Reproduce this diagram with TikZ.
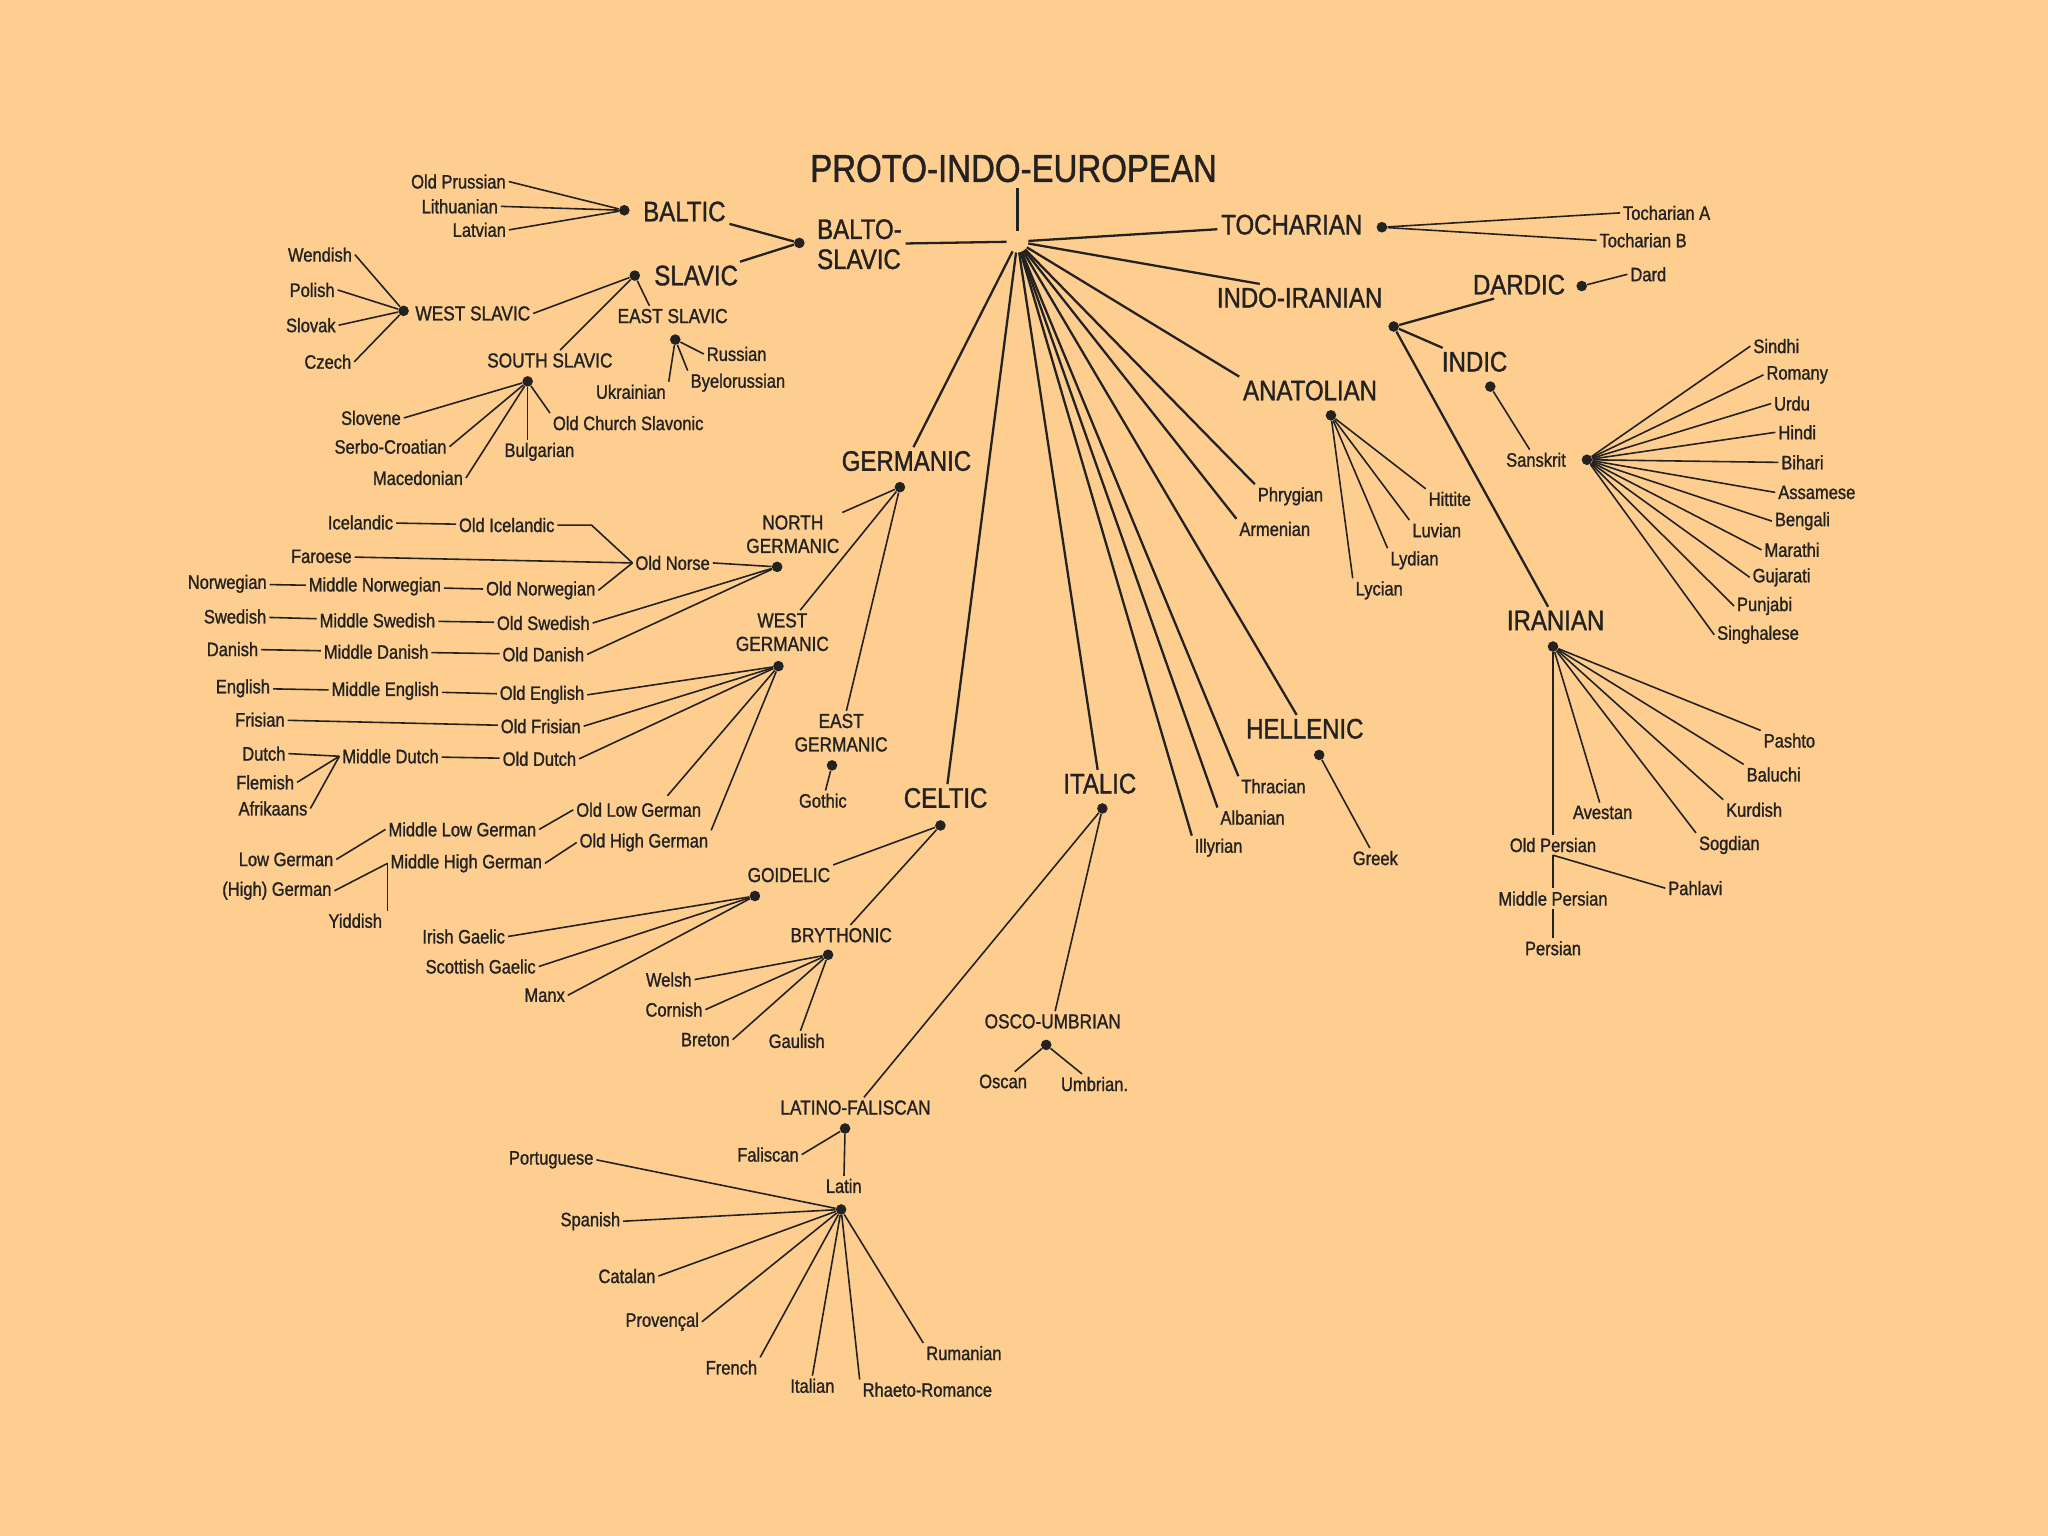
\documentclass[tikz,border=0pt]{standalone}
\usepackage{fontspec}
\setmainfont{Liberation Sans}[FakeStretch=0.85, FakeBold=1.2]
\usepackage{xcolor}
\usepackage{tikz}
\usetikzlibrary{calc}

\definecolor{paper}{RGB}{253,206,144}
\definecolor{ink}{RGB}{36,34,32}

\tikzset{
  lang/.style={font=\fontsize{11}{12}\selectfont, text=ink, inner sep=1.5pt},
  grp/.style={font=\fontsize{11.5}{13.3}\selectfont, text=ink, inner sep=1.5pt, align=center},
  fam/.style={font=\fontsize{16}{17}\selectfont, text=ink, inner sep=2pt, align=left},
  knot/.style={circle, fill=ink, inner sep=0pt, minimum size=6pt},
  hub/.style={circle, inner sep=0pt, minimum size=12pt},
  trunk/.style={draw=ink, line width=1.3pt},
  twig/.style={draw=ink, line width=0.9pt},
}

\begin{document}
\begin{tikzpicture}[x=0.026cm, y=-0.026cm]
  \fill[paper] (0,0) rectangle (1568,1176);
  \useasboundingbox (0,0) rectangle (1568,1176);

  % Root
  \node[font=\fontsize{22}{24}\selectfont, text=ink] (pie-t) at (776,129) {PROTO-INDO-EUROPEAN};
  \node[hub] (pie) at (779,185) {};
  \draw[trunk] (pie |- pie-t.south) -- (pie);

  % Main families
  \node[fam] (bsl) at (658,187) {BALTO-\\SLAVIC};
  \node[knot] (bsl-d) at (612,186) {};
  \node[fam] (toch) at (989,172) {TOCHARIAN};
  \node[knot] (toch-d) at (1058,174) {};
  \node[fam] (iir) at (995,228) {INDO-IRANIAN};
  \node[knot] (iir-d) at (1067,250) {};
  \node[fam] (anat) at (1003,299) {ANATOLIAN};
  \node[knot] (anat-d) at (1019,318) {};
  \node[fam] (germ) at (694,353) {GERMANIC};
  \node[knot] (germ-d) at (689,373) {};
  \node[fam] (hell) at (999,558) {HELLENIC};
  \node[knot] (hell-d) at (1010,578) {};
  \node[fam] (ital) at (842,600) {ITALIC};
  \node[knot] (ital-d) at (844,619) {};
  \node[fam] (celt) at (724,611) {CELTIC};
  \node[knot] (celt-d) at (720,632) {};
  % Single languages straight from the root
  \foreach \n/\t/\x/\y in {phry/Phrygian/988/380, arme/Armenian/976/405,
      thra/Thracian/975/602, alba/Albanian/959/626, illy/Illyrian/933/649}
    \node[lang] (\n) at (\x,\y) {\t};

  % Lines from the root
  \draw[trunk] (pie) -- (bsl);
  \draw[trunk] (pie) -- (toch);
  \draw[trunk] (pie) -- ($(iir.north west)!0.27!(iir.north east)$);
  \foreach \n in {anat, phry, arme, thra, alba, illy}
    \draw[trunk] (pie) -- (\n.north west);
  \foreach \n in {germ, celt, ital, hell}
    \draw[trunk] (pie) -- (\n);

  % Balto-Slavic
  \node[fam] (balt) at (524,162) {BALTIC};
  \node[knot] (balt-d) at (478,161) {};
  \node[fam] (slav) at (533,211) {SLAVIC};
  \node[knot] (slav-d) at (486,211) {};
  \draw[trunk] (balt) -- (bsl-d);
  \draw[trunk] (slav) -- (bsl-d);
  \foreach \n/\t/\x/\y in {opru/Old Prussian/351/139, lith/Lithuanian/352/158, latv/Latvian/367/176} {
    \node[lang] (\n) at (\x,\y) {\t};
    \draw[twig] (\n.east) -- (balt-d);
  }
  \node[grp] (wsla) at (362,240) {WEST SLAVIC};
  \node[knot] (wsla-d) at (309,238) {};
  \draw[twig] (wsla.east) -- (slav-d);
  \foreach \n/\t/\x/\y in {wend/Wendish/245/195, poli/Polish/239/222, slok/Slovak/238/249, czec/Czech/251/277} {
    \node[lang] (\n) at (\x,\y) {\t};
    \draw[twig] (\n.east) -- (wsla-d);
  }
  \node[grp] (esla) at (515,242) {EAST SLAVIC};
  \node[knot] (esla-d) at (517,260) {};
  \draw[twig] (slav-d) -- ($(esla.north west)!0.3!(esla.north east)$);
  \node[lang] (russ) at (564,271) {Russian};
  \node[lang] (ukra) at (483,300) {Ukrainian};
  \node[lang] (byel) at (565,293) {Byelorussian};
  \draw[twig] (esla-d) -- (russ.west);
  \draw[twig] (esla-d) -- (ukra.north east);
  \draw[twig] (esla-d) -- (byel.north west);
  \node[grp] (ssla) at (421,276) {SOUTH SLAVIC};
  \node[knot] (ssla-d) at (404,292) {};
  \draw[twig] (slav-d) -- (ssla);
  \foreach \n/\t/\x/\y in {slon/Slovene/284/320, serb/Serbo-Croatian/299/342, mace/Macedonian/320/366} {
    \node[lang] (\n) at (\x,\y) {\t};
    \draw[twig] (\n.east) -- (ssla-d);
  }
  \node[lang] (bulg) at (413,346) {Bulgarian};
  \node[lang] (ocsl) at (481,324) {Old Church Slavonic};
  \draw[twig] (ssla-d) -- (ssla-d |- bulg.north);
  \draw[twig] (ssla-d) -- (ocsl.north west);

  % Germanic
  \node[grp] (ngem) at (607,409) {NORTH\\GERMANIC};
  \node[knot] (ngem-d) at (595,434) {};
  \node[grp] (wgem) at (599,484) {WEST\\GERMANIC};
  \node[knot] (wgem-d) at (596,510) {};
  \node[grp] (egem) at (644,561) {EAST\\GERMANIC};
  \node[knot] (egem-d) at (637,586) {};
  \foreach \n in {ngem, wgem, egem}
    \draw[twig] (germ-d) -- (\n);
  \node[lang] (goth) at (630,613) {Gothic};
  \draw[twig] (egem-d) -- (goth);
  % North Germanic
  \node[lang] (onor) at (515,431) {Old Norse};
  \draw[twig] (onor.east) -- (ngem-d);
  \foreach \n/\t/\x/\y in {icel/Icelandic/276/400, oice/Old Icelandic/388/402, faro/Faroese/246/426,
      norw/Norwegian/174/447, mnor/Middle Norwegian/287/449, onrw/Old Norwegian/414/452,
      swed/Swedish/180/472, mswe/Middle Swedish/289/475, oswe/Old Swedish/416/477,
      dani/Danish/178/497, mdan/Middle Danish/288/499, odan/Old Danish/416/501}
    \node[lang] (\n) at (\x,\y) {\t};
  \draw[twig] (icel) -- (oice);
  \draw[twig] (oice.east) -- ++(26,0) -- (onor.west);
  \draw[twig] (faro) -- (onor.west);
  \draw[twig] (norw) -- (mnor) -- (onrw);
  \draw[twig] (onrw.east) -- (onor.west);
  \draw[twig] (swed) -- (mswe) -- (oswe);
  \draw[twig] (dani) -- (mdan) -- (odan);
  \foreach \n in {oswe, odan}
    \draw[twig] (\n.east) -- (ngem-d);
  % West Germanic
  \foreach \n/\t/\x/\y in {engl/English/186/527, meng/Middle English/295/529, oeng/Old English/415/532,
      fris/Frisian/199/551, ofri/Old Frisian/414/556,
      dutc/Dutch/202/577, flem/Flemish/203/599, afri/Afrikaans/209/619,
      mdut/Middle Dutch/299/579, odut/Old Dutch/413/581,
      olge/Old Low German/489/620, ohge/Old High German/493/645,
      mlge/Middle Low German/354/635, mhge/Middle High German/357/661,
      lgem/Low German/219/658, yidd/Yiddish/272/705}
    \node[lang] (\n) at (\x,\y) {\t};
  \node[lang] (hgem) at (212,682) {(High) German};
  \draw[twig] (engl) -- (meng) -- (oeng);
  \draw[twig] (fris) -- (ofri);
  \draw[twig] (mdut) -- (odut);
  \foreach \n in {dutc, flem, afri}
    \draw[twig] (\n.east) -- (mdut.west);
  \foreach \n in {oeng, ofri, odut}
    \draw[twig] (\n.east) -- (wgem-d);
  \draw[twig] (wgem-d) -- ($(olge.north west)!0.72!(olge.north east)+(0,-3)$);
  \draw[twig] (wgem-d) -- (ohge.north east);
  \draw[twig] (lgem.east) -- (mlge.west);
  \draw[twig] (mlge.east) -- (olge.west);
  \draw[twig] (hgem.east) -- (mhge.west);
  \draw[twig] (mhge.east) -- (ohge.west);
  \draw[twig] (mhge.west) -- (mhge.west |- yidd.north);

  % Celtic
  \node[grp] (goid) at (604,670) {GOIDELIC};
  \node[knot] (goid-d) at (578,686) {};
  \node[grp] (bryt) at (644,716) {BRYTHONIC};
  \node[knot] (bryt-d) at (634,731) {};
  \draw[twig] (celt-d) -- (goid.north east);
  \draw[twig] (celt-d) -- (bryt);
  \foreach \n/\t/\x/\y in {iris/Irish Gaelic/355/717, scot/Scottish Gaelic/368/740, manx/Manx/417/762} {
    \node[lang] (\n) at (\x,\y) {\t};
    \draw[twig] (\n.east) -- (goid-d);
  }
  \foreach \n/\t/\x/\y in {wels/Welsh/512/750, corn/Cornish/516/773, bret/Breton/540/796} {
    \node[lang] (\n) at (\x,\y) {\t};
    \draw[twig] (\n.east) -- (bryt-d);
  }
  \node[lang] (gaul) at (610,797) {Gaulish};
  \draw[twig] (bryt-d) -- (gaul);

  % Italic
  \node[grp] (osum) at (806,782) {OSCO-UMBRIAN};
  \node[knot] (osum-d) at (801,800) {};
  \node[lang] (osca) at (768,828) {Oscan};
  \node[lang] (umbr) at (838,830) {Umbrian.};
  \draw[twig] (ital-d) -- (osum);
  \draw[twig] (osum-d) -- (osca);
  \draw[twig] (osum-d) -- (umbr);
  \node[grp] (lafa) at (655,848) {LATINO-FALISCAN};
  \node[knot] (lafa-d) at (647,864) {};
  \draw[twig] (ital-d) -- (lafa);
  \node[lang] (fali) at (588,884) {Faliscan};
  \node[lang] (lati) at (646,908) {Latin};
  \node[knot] (lati-d) at (644,926) {};
  \draw[twig] (lafa-d) -- (fali.east);
  \draw[twig] (lafa-d) -- (lati);
  \foreach \n/\t/\x/\y/\a in {port/Portuguese/422/888/east, span/Spanish/452/935/east,
      cata/Catalan/480/977/east, prov/Provençal/507/1012/east, fren/French/560/1047/north east,
      itan/Italian/622/1061/north, rhae/Rhaeto-Romance/710/1064/north west, ruma/Rumanian/738/1036/north west} {
    \node[lang] (\n) at (\x,\y) {\t};
    \draw[twig] (lati-d) -- (\n.\a);
  }

  % Anatolian, Hellenic, Tocharian
  \foreach \n/\t/\x/\y in {hitt/Hittite/1110/382, luvi/Luvian/1100/406, lydi/Lydian/1083/429, lyci/Lycian/1056/452} {
    \node[lang] (\n) at (\x,\y) {\t};
    \draw[twig] (anat-d) -- (\n.north west);
  }
  \node[lang] (gree) at (1053,657) {Greek};
  \draw[twig] (hell-d) -- (gree);
  \node[lang] (tocA) at (1276,163) {Tocharian A};
  \node[lang] (tocB) at (1258,184) {Tocharian B};
  \draw[twig] (toch-d) -- (tocA.west);
  \draw[twig] (toch-d) -- (tocB.west);

  % Indo-Iranian
  \node[fam] (dard) at (1163,218) {DARDIC};
  \node[knot] (dard-d) at (1211,219) {};
  \node[lang] (dardl) at (1262,210) {Dard};
  \draw[trunk] (iir-d) -- ($(dard.south west)!0.25!(dard.south east)$);
  \draw[twig] (dard-d) -- (dardl.west);
  \node[fam] (indi) at (1129,277) {INDIC};
  \node[knot] (indi-d) at (1141,296) {};
  \draw[trunk] (iir-d) -- (indi);
  \node[lang] (sans) at (1176,352) {Sanskrit};
  \node[knot] (sans-d) at (1215,352) {};
  \draw[twig] (indi-d) -- (sans);
  \foreach \n/\t/\x/\y in {sind/Sindhi/1360/265, roma/Romany/1376/287, urdu/Urdu/1372/309,
      hind/Hindi/1376/331, biha/Bihari/1380/354, assa/Assamese/1391/377, beng/Bengali/1380/399,
      mara/Marathi/1372/421, guja/Gujarati/1364/442, punj/Punjabi/1351/464, sing/Singhalese/1346/486} {
    \node[lang] (\n) at (\x,\y) {\t};
    \draw[twig] (sans-d) -- (\n.west);
  }
  \node[fam] (iran) at (1191,475) {IRANIAN};
  \node[knot] (iran-d) at (1189,495) {};
  \draw[trunk] (iir-d) -- (iran);
  \foreach \n/\t/\x/\y in {pash/Pashto/1370/567, balu/Baluchi/1358/593, kurd/Kurdish/1343/620, sogd/Sogdian/1324/647} {
    \node[lang] (\n) at (\x,\y) {\t};
    \draw[twig] (iran-d) -- (\n.north west);
  }
  \node[lang] (aves) at (1227,622) {Avestan};
  \draw[twig] (iran-d) -- (aves);
  \node[lang] (oper) at (1189,647) {Old Persian};
  \node[lang] (mper) at (1189,688) {Middle Persian};
  \node[lang] (pers) at (1189,726) {Persian};
  \node[lang] (pahl) at (1298,680) {Pahlavi};
  \draw[twig] (iran-d) -- (iran-d |- oper.north);
  \draw[twig] (oper.south) -- (mper);
  \draw[twig] (oper.south) -- (pahl.west);
  \draw[twig] (mper) -- (pers);
\end{tikzpicture}
\end{document}
